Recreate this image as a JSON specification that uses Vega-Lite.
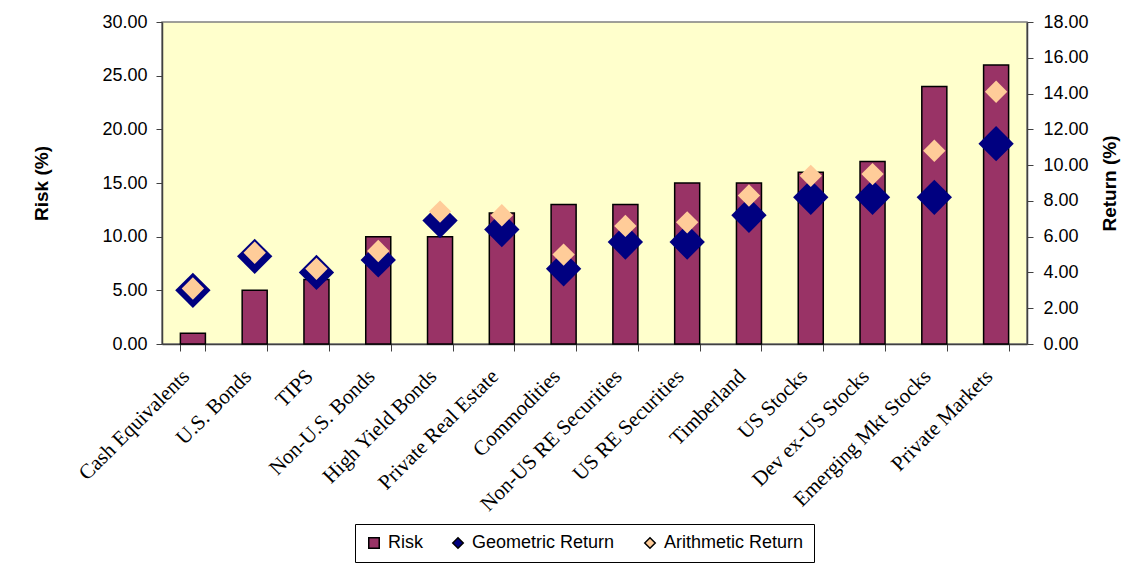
{
  "$schema": "https://vega.github.io/schema/vega-lite/v6.json",
  "width": 865,
  "height": 322,
  "autosize": {"type": "none"},
  "padding": {"left": 162, "top": 22, "right": 103, "bottom": 226},
  "background": "#FFFFFF",
  "data": {
    "values": [
      {"asset": "Cash Equivalents", "Risk": 1, "Geometric Return": 3.0, "Arithmetic Return": 3.1},
      {"asset": "U.S. Bonds", "Risk": 5, "Geometric Return": 4.9, "Arithmetic Return": 5.1},
      {"asset": "TIPS", "Risk": 6, "Geometric Return": 4.0, "Arithmetic Return": 4.2},
      {"asset": "Non-U.S. Bonds", "Risk": 10, "Geometric Return": 4.7, "Arithmetic Return": 5.2},
      {"asset": "High Yield Bonds", "Risk": 10, "Geometric Return": 6.9, "Arithmetic Return": 7.4},
      {"asset": "Private Real Estate", "Risk": 12.2, "Geometric Return": 6.4, "Arithmetic Return": 7.2},
      {"asset": "Commodities", "Risk": 13, "Geometric Return": 4.2, "Arithmetic Return": 5.0},
      {"asset": "Non-US RE Securities", "Risk": 13, "Geometric Return": 5.7, "Arithmetic Return": 6.6},
      {"asset": "US RE Securities", "Risk": 15, "Geometric Return": 5.7, "Arithmetic Return": 6.8},
      {"asset": "Timberland", "Risk": 15, "Geometric Return": 7.2, "Arithmetic Return": 8.3},
      {"asset": "US Stocks", "Risk": 16, "Geometric Return": 8.2, "Arithmetic Return": 9.4},
      {"asset": "Dev ex-US Stocks", "Risk": 17, "Geometric Return": 8.2, "Arithmetic Return": 9.5},
      {"asset": "Emerging Mkt Stocks", "Risk": 24, "Geometric Return": 8.2, "Arithmetic Return": 10.8},
      {"asset": "Private Markets", "Risk": 26, "Geometric Return": 11.2, "Arithmetic Return": 14.1}
    ]
  },
  "encoding": {
    "x": {
      "field": "asset",
      "type": "nominal",
      "sort": null,
      "scale": {"paddingInner": 0.595, "paddingOuter": 0.2975},
      "axis": {
        "title": null,
        "labelAngle": -45,
        "labelAlign": "right",
        "labelBaseline": "middle",
        "labelFont": "Liberation Serif",
        "labelFontSize": 21,
        "labelColor": "#000000",
        "labelPadding": 22,
        "labelOffset": -7,
        "labelLimit": 400,
        "tickBand": "extent",
        "tickSize": 7,
        "tickColor": "#404040",
        "domainColor": "#404040",
        "domainWidth": 1.5
      }
    }
  },
  "layer": [
    {
      "mark": {"type": "bar", "stroke": "#000000", "strokeWidth": 1.5},
      "encoding": {
        "y": {
          "field": "Risk",
          "type": "quantitative",
          "scale": {"domain": [0, 30], "nice": false},
          "axis": {
            "orient": "left",
            "title": "Risk (%)",
            "values": [0, 5, 10, 15, 20, 25, 30],
            "format": ".2f",
            "grid": false,
            "labelFont": "Liberation Sans",
            "labelFontSize": 18,
            "labelColor": "#000000",
            "labelPadding": 9,
            "tickSize": 6,
            "tickColor": "#404040",
            "domainColor": "#404040",
            "domainWidth": 1.5,
            "titleFont": "Liberation Sans",
            "titleFontSize": 19,
            "titleFontWeight": "bold",
            "titleColor": "#000000",
            "titlePadding": 50
          }
        },
        "color": {
          "datum": "Risk",
          "type": "nominal",
          "scale": {
            "domain": ["Risk", "Geometric Return", "Arithmetic Return"],
            "range": ["#993366", "#000080", "#FFCC99"]
          }
        }
      }
    },
    {
      "transform": [
        {"fold": ["Geometric Return", "Arithmetic Return"], "as": ["series", "return"]}
      ],
      "mark": {"type": "point", "filled": true, "opacity": 1, "strokeWidth": 0},
      "encoding": {
        "y": {
          "field": "return",
          "type": "quantitative",
          "scale": {"domain": [0, 18], "nice": false},
          "axis": {
            "orient": "right",
            "title": "Return (%)",
            "titleAngle": 270,
            "values": [0, 2, 4, 6, 8, 10, 12, 14, 16, 18],
            "format": ".2f",
            "grid": false,
            "labelFont": "Liberation Sans",
            "labelFontSize": 18,
            "labelColor": "#000000",
            "labelPadding": 10,
            "tickSize": 6,
            "tickColor": "#404040",
            "domainColor": "#404040",
            "domainWidth": 1.5,
            "titleFont": "Liberation Sans",
            "titleFontSize": 19,
            "titleFontWeight": "bold",
            "titleColor": "#000000",
            "titlePadding": 31
          }
        },
        "color": {
          "field": "series",
          "type": "nominal",
          "scale": {
            "domain": ["Risk", "Geometric Return", "Arithmetic Return"],
            "range": ["#993366", "#000080", "#FFCC99"]
          },
          "legend": {
            "encode": {
              "symbols": {
                "update": {
                  "stroke": {"signal": "datum.value === 'Risk' ? '#000000' : 'transparent'"},
                  "strokeWidth": {"value": 1.2}
                }
              }
            }
          }
        },
        "shape": {
          "field": "series",
          "type": "nominal",
          "scale": {
            "domain": ["Risk", "Geometric Return", "Arithmetic Return"],
            "range": ["square", "diamond", "diamond"]
          }
        },
        "size": {
          "field": "series",
          "type": "nominal",
          "scale": {
            "domain": ["Geometric Return", "Arithmetic Return"],
            "range": [1250, 500]
          },
          "legend": null
        }
      }
    }
  ],
  "resolve": {"scale": {"y": "independent"}},
  "config": {
    "view": {"fill": "#FFFFCC", "stroke": "#808080", "strokeWidth": 1.5},
    "legend": {
      "title": null,
      "orient": "none",
      "direction": "horizontal",
      "legendX": 193,
      "legendY": 502,
      "strokeColor": "#000000",
      "fillColor": "#FFFFFF",
      "padding": 10,
      "symbolSize": 110,
      "labelFont": "Liberation Sans",
      "labelFontSize": 18,
      "labelColor": "#000000",
      "labelOffset": 5,
      "columnPadding": 26
    }
  }
}
